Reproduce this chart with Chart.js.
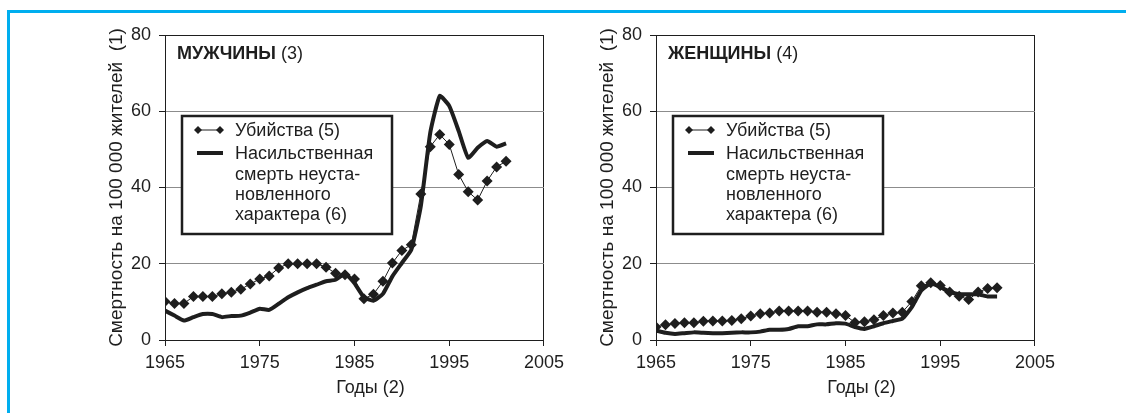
<!DOCTYPE html>
<html>
<head>
<meta charset="utf-8">
<script src="https://cdn.jsdelivr.net/npm/chart.js@4.4.1/dist/chart.umd.min.js"></script>
<style>
  body { margin: 0; background: #fff; width: 1126px; height: 413px; overflow: hidden; position: relative; }
  #frame { position: absolute; left: 7px; top: 10px; right: -10px; bottom: -10px;
           border-top: 3px solid #00aeef; border-left: 3px solid #00aeef; }
  canvas { position: absolute; top: 15px; }
  #men { left: 100px; }
  #women { left: 591px; }
</style>
</head>
<body>
<div id="frame"></div>
<canvas id="men" width="470" height="390"></canvas>
<canvas id="women" width="470" height="390"></canvas>
<script>
// годы наблюдений
const years = [1965, 1966, 1967, 1968, 1969, 1970, 1971, 1972, 1973, 1974,
               1975, 1976, 1977, 1978, 1979, 1980, 1981, 1982, 1983, 1984,
               1985, 1986, 1987, 1988, 1989, 1990, 1991, 1992, 1993, 1994,
               1995, 1996, 1997, 1998, 1999, 2000, 2001];

// мужчины
const menHomicide = [10.1, 9.6, 9.6, 11.4, 11.4, 11.4, 12.1, 12.5, 13.3, 14.7,
                     16.0, 16.8, 18.9, 20.0, 20.0, 20.0, 20.0, 19.1, 17.5, 17.1,
                     16.0, 10.8, 12.0, 15.4, 20.2, 23.5, 25.0, 38.3, 50.7, 53.9,
                     51.3, 43.4, 38.9, 36.7, 41.7, 45.4, 46.9];
const menViolent = [7.7, 6.4, 5.1, 6.0, 6.8, 6.8, 6.0, 6.3, 6.4, 7.2,
                    8.2, 7.9, 9.5, 11.2, 12.5, 13.6, 14.5, 15.4, 15.8, 17.4,
                    14.9, 11.2, 10.3, 12.1, 16.7, 20.2, 23.7, 35.1, 54.4, 64.0,
                    61.4, 54.8, 47.8, 50.4, 52.2, 50.7, 51.6];

// женщины
const womenHomicide = [3.4, 4.0, 4.3, 4.5, 4.5, 4.9, 5.0, 5.0, 5.1, 5.6,
                       6.3, 6.9, 7.1, 7.6, 7.6, 7.6, 7.6, 7.3, 7.3, 6.9,
                       6.4, 4.6, 4.8, 5.3, 6.4, 7.1, 7.3, 10.1, 14.2, 15.0,
                       14.3, 12.6, 11.5, 10.6, 12.6, 13.5, 13.7];
const womenViolent = [2.5, 1.9, 1.6, 1.8, 2.0, 1.9, 1.8, 1.8, 1.9, 2.0,
                      2.0, 2.2, 2.7, 2.7, 2.9, 3.6, 3.6, 4.1, 4.1, 4.4,
                      4.3, 3.4, 2.9, 3.6, 4.4, 5.0, 5.6, 8.6, 13.0, 14.8,
                      13.9, 12.6, 12.0, 12.0, 12.0, 11.4, 11.4];

const yTicks = [0, 20, 40, 60, 80];
const xTicks = [1965, 1975, 1985, 1995, 2005];

const legendLines = ["Убийства (5)", "Насильственная", "смерть неуста-", "новленного", "характера (6)"];
const yTitle = "Смертность на 100 000 жителей  (1)";
const xTitle = "Годы (2)";

const dark = "#1e1e1e";
const fontFamily = "'Liberation Sans', Arial, sans-serif";

function toPoints(vals) {
    return vals.map((v, i) => ({ x: years[i], y: v }));
}

function diamond(ctx, x, y, r) {
    ctx.beginPath();
    ctx.moveTo(x, y - r);
    ctx.lineTo(x + r, y);
    ctx.lineTo(x, y + r);
    ctx.lineTo(x - r, y);
    ctx.closePath();
    ctx.fill();
}

// заголовок, легенда и подпись оси X
const decor = {
    id: "decor",
    afterDraw(chart, args, opts) {
        const ctx = chart.ctx;
        const ca = chart.chartArea;
        ctx.save();
        ctx.fillStyle = dark;
        ctx.textBaseline = "alphabetic";
        ctx.textAlign = "left";
        ctx.font = "bold 18px " + fontFamily;
        ctx.fillText(opts.bold, ca.left + 12, ca.top + 24);
        let w = ctx.measureText(opts.bold + " ").width;
        ctx.font = "18px " + fontFamily;
        ctx.fillText(opts.rest, ca.left + 12 + w, ca.top + 24);

        // легенда
        const bx = ca.left + 17, by = ca.top + 81, bw = 210, bh = 118;
        ctx.fillStyle = "#fff";
        ctx.fillRect(bx, by, bw, bh);
        ctx.lineWidth = 2.5;
        ctx.strokeStyle = dark;
        ctx.strokeRect(bx, by, bw, bh);

        const rows = [95, 118, 139, 159, 179];
        ctx.fillStyle = dark;
        ctx.textBaseline = "middle";
        legendLines.forEach((t, i) => {
            ctx.fillText(t, ca.left + 70, ca.top + rows[i] + 1);
        });
        // значок убийств
        ctx.lineWidth = 1;
        ctx.beginPath();
        ctx.moveTo(ca.left + 33, ca.top + rows[0]);
        ctx.lineTo(ca.left + 55, ca.top + rows[0]);
        ctx.stroke();
        diamond(ctx, ca.left + 33, ca.top + rows[0], 4);
        diamond(ctx, ca.left + 55, ca.top + rows[0], 4);
        // значок насильственной смерти
        ctx.lineWidth = 4;
        ctx.beginPath();
        ctx.moveTo(ca.left + 32, ca.top + rows[1]);
        ctx.lineTo(ca.left + 58, ca.top + rows[1]);
        ctx.stroke();

        // подпись оси X
        ctx.textAlign = "center";
        ctx.fillText(xTitle, (ca.left + ca.right) / 2 + 16, ca.bottom + 48);
        ctx.restore();
    }
};

function makeChart(id, bold, rest, homicide, violent) {
    return new Chart(document.getElementById(id), {
        type: "line",
        data: {
            datasets: [{
                label: legendLines[0],
                data: toPoints(homicide),
                borderColor: dark,
                borderWidth: 1,
                pointStyle: "rectRot",
                pointRadius: 5.5,
                pointBackgroundColor: dark,
                pointBorderColor: dark,
                pointBorderWidth: 0,
                tension: 0
            }, {
                label: "Насильственная смерть неустановленного характера (6)",
                data: toPoints(violent),
                borderColor: dark,
                borderWidth: 4,
                pointRadius: 0,
                tension: 0.15
            }]
        },
        options: {
            responsive: false,
            animation: false,
            layout: { padding: { top: 20, right: 22, bottom: 0, left: 0 } },
            plugins: {
                legend: { display: false },
                tooltip: { enabled: false },
                decor: { bold: bold, rest: rest }
            },
            scales: {
                x: {
                    type: "linear",
                    min: xTicks[0],
                    max: xTicks[xTicks.length - 1],
                    afterFit: s => { s.height = 65; },
                    afterBuildTicks: s => { s.ticks = xTicks.map(v => ({ value: v })); },
                    ticks: {
                        color: dark,
                        font: { family: fontFamily, size: 18 },
                        padding: 6,
                        maxRotation: 0,
                        callback: v => String(v)
                    },
                    grid: {
                        color: c => (c.tick && c.tick.value === 2005) ? dark : "transparent",
                        tickColor: dark,
                        tickLength: 6
                    },
                    border: { color: dark, width: 1 }
                },
                y: {
                    min: 0,
                    max: 80,
                    afterFit: s => { s.width = 65; },
                    afterBuildTicks: s => { s.ticks = yTicks.map(v => ({ value: v })); },
                    ticks: {
                        color: dark,
                        font: { family: fontFamily, size: 18 },
                        padding: 8
                    },
                    grid: {
                        color: c => (c.tick && (c.tick.value === 80 || c.tick.value === 0)) ? dark : "#8c8c8c",
                        tickColor: dark,
                        tickLength: 6
                    },
                    border: { color: dark, width: 1 },
                    title: {
                        display: true,
                        text: yTitle,
                        color: dark,
                        font: { family: fontFamily, size: 19 },
                        padding: { top: 5, bottom: 0 }
                    }
                }
            }
        },
        plugins: [decor]
    });
}

makeChart("men", "МУЖЧИНЫ", "(3)", menHomicide, menViolent);
makeChart("women", "ЖЕНЩИНЫ", "(4)", womenHomicide, womenViolent);
</script>
</body>
</html>
